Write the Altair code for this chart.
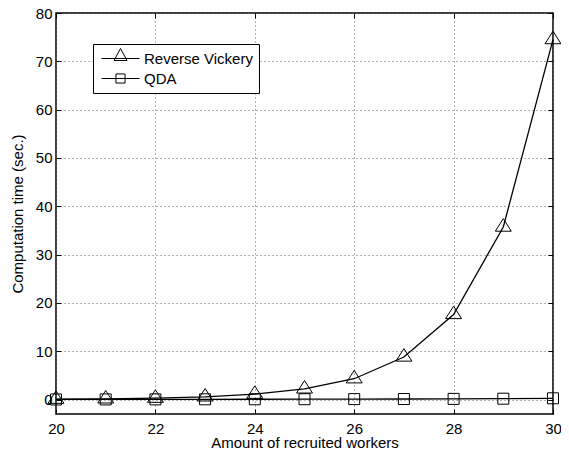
import altair as alt
import pandas as pd

workers = [20, 21, 22, 23, 24, 25, 26, 27, 28, 29, 30]
reverse_vickery = [0.07, 0.14, 0.28, 0.55, 1.1, 2.2, 4.3, 8.8, 17.6, 35.7, 74.5]
qda = [0.01, 0.02, 0.03, 0.04, 0.05, 0.06, 0.08, 0.10, 0.13, 0.17, 0.25]
methods = ["Reverse Vickery", "QDA"]
x_ticks = [20, 22, 24, 26, 28, 30]
y_ticks = [0, 10, 20, 30, 40, 50, 60, 70, 80]

rows = []
for w, v in zip(workers, reverse_vickery):
    rows.append({"workers": w, "time": v, "method": methods[0]})
for w, v in zip(workers, qda):
    rows.append({"workers": w, "time": v, "method": methods[1]})
df = pd.DataFrame(rows)

FONT = "Liberation Sans"
TRI = "M0,-1.04L1,0.52L-1,0.52Z"
SQ = "M-0.6875,-0.6875H0.6875V0.6875H-0.6875Z"
LEG_TRI = "M-2.375,0H2.375M0,-1.25L0.81,0.25L-0.81,0.25Z"
LEG_SQ = "M-2.375,0H2.375M-0.57,-0.57H0.57V0.57H-0.57Z"

xscale = alt.Scale(domain=[20, 30], nice=False, zero=False)
yscale = alt.Scale(domain=[-3, 80], nice=False, zero=False)

common_axis = dict(
    domain=False, offset=-5, tickSize=5, tickColor="black", tickWidth=1,
    labelFont=FONT, labelFontSize=15, labelColor="black", labelFlush=False,
    labelOverlap=False, titleFont=FONT, titleFontSize=15, titleColor="black",
    titleFontWeight="normal", gridColor="#666666", gridDash=[1, 3], gridWidth=1,
    gridOpacity=1,
)

lines = alt.Chart(df).mark_line(color="black", strokeWidth=1.3).encode(
    x=alt.X("workers:Q", scale=xscale, title="Amount of recruited workers",
            axis=alt.Axis(orient="bottom", values=x_ticks, format="d", grid=True,
                          labelPadding=7, titleBaseline="alphabetic", titleY=38,
                          **common_axis)),
    y=alt.Y("time:Q", scale=yscale, title="Computation time (sec.)",
            axis=alt.Axis(orient="left", values=y_ticks, format="d", grid=True,
                          labelPadding=4, titlePadding=10, **common_axis)),
    detail="method:N",
)

points = alt.Chart(df).mark_point(filled=False, color="black", strokeWidth=1, size=256, opacity=1).encode(
    x=alt.X("workers:Q", scale=xscale, title=None,
            axis=alt.Axis(orient="top", values=x_ticks, labels=False, grid=False, **common_axis)),
    y=alt.Y("time:Q", scale=yscale, title=None,
            axis=alt.Axis(orient="right", values=y_ticks, labels=False, grid=False, **common_axis)),
    shape=alt.Shape("method:N", scale=alt.Scale(domain=methods, range=[TRI, SQ]), legend=None),
)

legend_layer = alt.Chart(df).mark_point(filled=False, color="black", strokeWidth=1, size=256, opacity=0).encode(
    x=alt.X("workers:Q", scale=xscale, axis=None),
    y=alt.Y("time:Q", scale=yscale, axis=None),
    shape=alt.Shape("method:N", scale=alt.Scale(domain=methods, range=[LEG_TRI, LEG_SQ]),
                    legend=alt.Legend(
                        title=None, orient="none", legendX=37, legendY=31,
                        strokeColor="black", fillColor="white", padding=6,
                        symbolOffset=13, labelOffset=15, labelFont=FONT,
                        labelFontSize=15, labelColor="black", symbolSize=256,
                        symbolStrokeColor="black", symbolStrokeWidth=1,
                        symbolFillColor="transparent", symbolOpacity=1, labelLimit=0,
                        cornerRadius=0,
                    )),
)

chart = alt.layer(lines, points, legend_layer).resolve_axis(
    x="independent", y="independent"
).resolve_scale(shape="independent").properties(
    width=497, height=401,
    autosize=alt.AutoSizeParams(type="none"),
    padding={"left": 48, "top": 5, "right": 8, "bottom": 34},
    background="white",
).configure_view(stroke="black", strokeWidth=1.5).configure_legend(rowPadding=3)

chart.save("out.html", embed_options={"renderer": "svg", "actions": False})
